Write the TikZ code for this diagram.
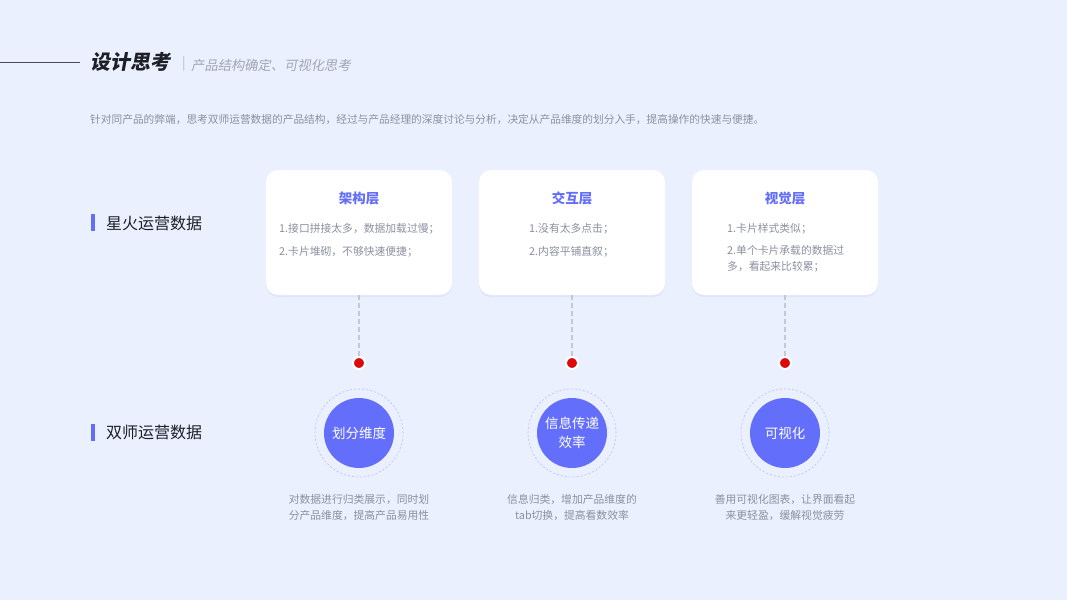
\documentclass[tikz,border=0pt]{standalone}
\usepackage{fontspec}
\setmainfont{Noto Sans CJK SC}
\newfontfamily\cjkslant[FakeSlant=0.18]{Noto Sans CJK SC}
\usetikzlibrary{shadows}
\definecolor{bg}{RGB}{234,240,254}
\definecolor{accent}{RGB}{99,110,250}
\definecolor{txtgray}{RGB}{140,144,160}
\definecolor{dark}{RGB}{30,32,40}
\definecolor{dashgray}{RGB}{196,200,214}
\definecolor{dotred}{RGB}{220,10,10}
\tikzset{
  card/.style={fill=white, rounded corners=12pt, draw=none,
    drop shadow={opacity=0.08, shadow xshift=0pt, shadow yshift=-2pt, fill=accent}},
  cardtitle/.style={text=accent, font=\bfseries\fontsize{13.5}{16}\selectfont, inner sep=0pt},
  cardline/.style={text=txtgray, font=\fontsize{10.8}{15.5}\selectfont, inner sep=0pt, anchor=west, align=left},
  rowlabel/.style={text=dark, font=\fontsize{16}{19}\selectfont, inner sep=0pt, anchor=west},
  rowbar/.style={fill=accent, draw=none},
  linkline/.style={draw=dashgray, line width=2.2pt, dash pattern=on 4.5pt off 3.5pt},
  reddot/.style={circle, fill=dotred, draw=white, line width=2pt, minimum size=12pt, inner sep=0pt},
  ring/.style={circle, draw=accent!45, dashed, dash pattern=on 2pt off 2pt, line width=0.6pt, minimum size=88pt, inner sep=0pt},
  disc/.style={circle, fill=accent, minimum size=70pt, inner sep=0pt, text=white, font=\fontsize{13.5}{20}\selectfont, align=center},
  desc/.style={text=txtgray, font=\fontsize{10.8}{15.5}\selectfont, inner sep=0pt, align=center}
}
\begin{document}
\begin{tikzpicture}[x=1pt,y=-1pt]
\fill[bg] (0,0) rectangle (1067,600);
\useasboundingbox (0,0) rectangle (1067,600);

% header
\coordinate (hl0) at (0,62);
\coordinate (hl1) at (80,62);
\draw[dark!80, line width=0.8pt] (hl0) -- (hl1);
\node[anchor=west, inner sep=0pt, text=dark, font=\cjkslant\bfseries\fontsize{20}{24}\selectfont] (title) at (90,62) {设计思考};
\node[anchor=west, inner sep=0pt, text=txtgray!60, font=\fontsize{13}{16}\selectfont] (sep) at (182,64) {|};
\node[anchor=west, inner sep=0pt, text=txtgray!80, font=\cjkslant\fontsize{13.3}{16}\selectfont] (subtitle) at (191,65) {产品结构确定、可视化思考};
\node[anchor=west, inner sep=0pt, text=txtgray, font=\fontsize{10.7}{14}\selectfont] (intro) at (90,120) {针对同产品的弊端，思考双师运营数据的产品结构，经过与产品经理的深度讨论与分析，决定从产品维度的划分入手，提高操作的快速与便捷。};

% row labels
\fill[rowbar] (91,214) rectangle (94.5,231);
\node[rowlabel] (row1) at (106,223) {星火运营数据};
\fill[rowbar] (91,424) rectangle (94.5,441);
\node[rowlabel] (row2) at (106,432.5) {双师运营数据};

% cards
\foreach \cx/\nm in {359/a,572/b,785/c}{
  \path[card] (\cx-93,170) rectangle (\cx+93,295);
  \coordinate (card\nm) at (\cx,295);
  \node[reddot] (dot\nm) at (\cx,363) {};
  \node[ring] (ring\nm) at (\cx,433) {};
  \draw[linkline] (card\nm) -- (dot\nm.north);
}
\node[cardtitle] (ta) at (359,198) {架构层};
\node[cardline] (a1) at (279,228.5) {1.接口拼接太多，数据加载过慢；};
\node[cardline] (a2) at (279,251.5) {2.卡片堆砌，不够快速便捷；};

\node[cardtitle] (tb) at (572,198) {交互层};
\node[cardline] (b1) at (529,228.5) {1.没有太多点击；};
\node[cardline] (b2) at (529,251.5) {2.内容平铺直叙；};

\node[cardtitle] (tc) at (785,198) {视觉层};
\node[cardline] (c1) at (727,228.5) {1.卡片样式类似；};
\node[cardline] (c2) at (727,259) {2.单个卡片承载的数据过\\多，看起来比较累；};

% discs
\node[disc] (da) at (359,433) {划分维度};
\node[disc] (db) at (572,433) {信息传递\\[-1pt]效率};
\node[disc] (dc) at (785,433) {可视化};

% descriptions
\node[desc] (ea) at (359,507.5) {对数据进行归类展示，同时划\\分产品维度，提高产品易用性};
\node[desc] (eb) at (572,507.5) {信息归类，增加产品维度的\\tab切换，提高看数效率};
\node[desc] (ec) at (785,507.5) {善用可视化图表，让界面看起\\来更轻盈，缓解视觉疲劳};
\end{tikzpicture}
\end{document}
